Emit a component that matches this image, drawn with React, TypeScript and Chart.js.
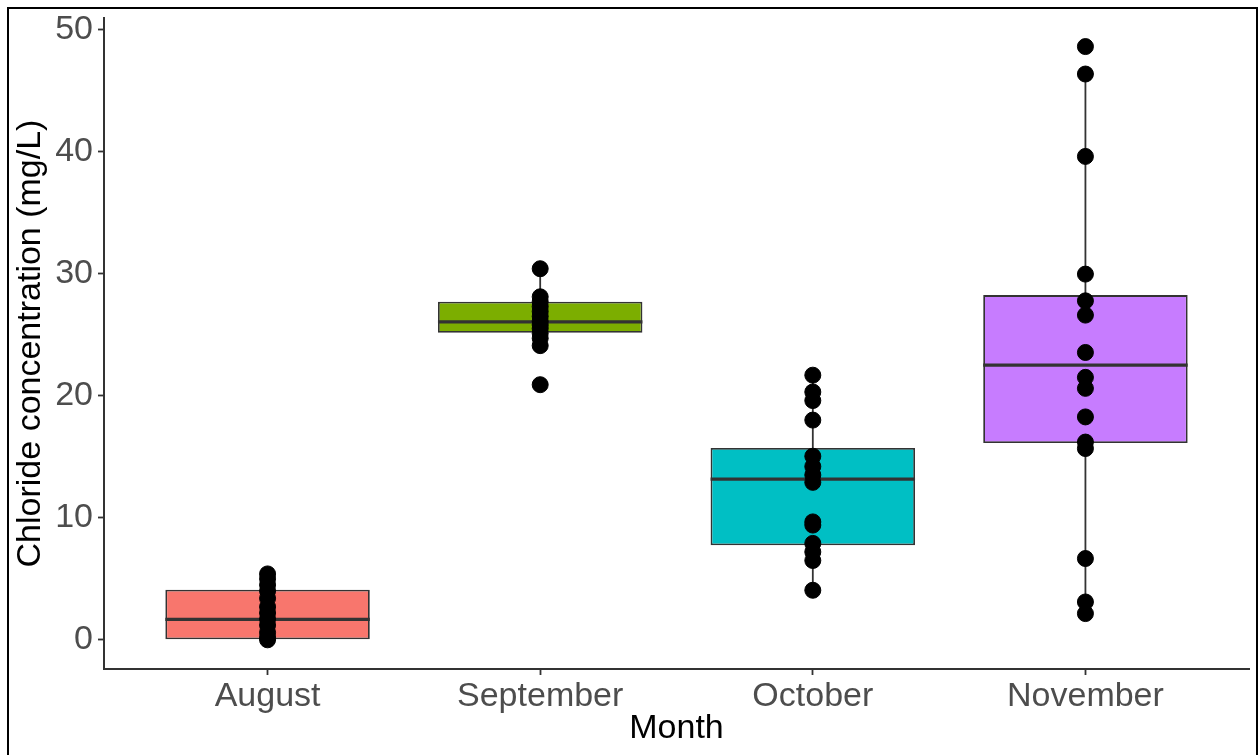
import React, { useEffect, useRef } from "react";
import { Chart, registerables } from "chart.js";

Chart.register(...registerables);

const months = ["August", "September", "October", "November"];
const boxColors = ["#F8766D", "#7CAE00", "#00BFC4", "#C77CFF"];

// box statistics
const q1 = [0.0, 25.15, 7.75, 16.13];
const medians = [1.68, 26.05, 13.16, 22.5];
const q3 = [4.1, 27.7, 15.72, 28.24];
const whiskerLow = [0.0, 24.1, 4.06, 2.15];
const whiskerHigh = [5.4, 30.4, 21.68, 46.35];

// individual observations
const augustPts = [5.4, 5.0, 4.5, 4.0, 3.4, 2.7, 2.2, 1.7, 1.2, 0.6, 0.2, 0.0];
const septemberPts = [30.4, 28.1, 27.7, 27.3, 26.9, 26.5, 26.1, 25.8, 25.5, 25.1, 24.7, 24.1, 20.9];
const octoberPts = [21.68, 20.3, 19.6, 18.0, 15.04, 14.2, 13.5, 12.9, 9.66, 9.4, 7.9, 7.2, 6.5, 4.06];
const novemberPts = [48.6, 46.35, 39.6, 29.96, 27.77, 26.6, 23.54, 21.5, 20.6, 18.26, 16.2, 15.67, 6.66, 3.1, 2.15];
const allPts = [augustPts, septemberPts, octoberPts, novemberPts];

const yTicks = [0, 10, 20, 30, 40, 50];
const xTicks = [1, 2, 3, 4];

const FONT = "'Liberation Sans', Arial, Helvetica, sans-serif";

export default function App() {
  const ref = useRef<HTMLCanvasElement | null>(null);

  useEffect(() => {
    const canvas = ref.current;
    if (!canvas) return;

    const boxPlugin = {
      id: "boxExtras",
      beforeDatasetsDraw(chart: any) {
        const { ctx, scales } = chart;
        const x = scales.x;
        const y = scales.y;
        ctx.save();
        ctx.strokeStyle = "#333333";
        ctx.lineWidth = 1.8;
        months.forEach((_, i) => {
          const px = x.getPixelForValue(i + 1);
          ctx.beginPath();
          ctx.moveTo(px, y.getPixelForValue(whiskerLow[i]));
          ctx.lineTo(px, y.getPixelForValue(whiskerHigh[i]));
          ctx.stroke();
        });
        ctx.restore();
      },
      afterDatasetDraw(chart: any, args: any) {
        if (args.index !== 1) return;
        const { ctx, scales } = chart;
        const y = scales.y;
        ctx.save();
        ctx.strokeStyle = "#333333";
        ctx.lineWidth = 3.2;
        args.meta.data.forEach((bar: any, i: number) => {
          const p = bar.getProps(["x", "width"], true);
          const py = y.getPixelForValue(medians[i]);
          ctx.beginPath();
          ctx.moveTo(p.x - p.width / 2, py);
          ctx.lineTo(p.x + p.width / 2, py);
          ctx.stroke();
        });
        ctx.restore();
      },
    };

    const pointData: { x: number; y: number }[] = [];
    allPts.forEach((arr, i) => arr.forEach((v) => pointData.push({ x: i + 1, y: v })));

    const chart = new Chart(canvas, {
      type: "bar",
      data: {
        datasets: [
          {
            type: "scatter",
            data: pointData,
            backgroundColor: "#000000",
            borderColor: "#000000",
            pointRadius: 8,
            pointHoverRadius: 8,
            order: 0,
          } as any,
          {
            type: "bar",
            data: months.map((_, i) => ({ x: i + 1, y: [q1[i], q3[i]] })),
            backgroundColor: boxColors,
            borderColor: "#333333",
            borderWidth: 1.8,
            borderSkipped: false,
            barPercentage: 0.75,
            categoryPercentage: 1,
            grouped: false,
            order: 2,
          } as any,
        ],
      },
      options: {
        animation: false,
        responsive: false,
        devicePixelRatio: 1,
        layout: { padding: { left: 0, top: 18, right: 10, bottom: 0 } },
        plugins: {
          legend: { display: false },
          tooltip: { enabled: false },
        },
        scales: {
          x: {
            type: "linear",
            min: 0.4,
            max: 4.6,
            offset: false,
            grid: {
              drawOnChartArea: false,
              drawTicks: true,
              tickLength: 6,
              tickColor: "#333333",
              tickWidth: 1.8,
              offset: false,
            },
            border: { display: true, color: "#333333", width: 2 },
            afterBuildTicks: (scale: any) => {
              scale.ticks = xTicks.map((v) => ({ value: v }));
            },
            afterFit: (scale: any) => {
              scale.height = 86;
              scale.paddingLeft = 0;
              scale.paddingRight = 0;
            },
            ticks: {
              color: "#4D4D4D",
              font: { family: FONT, size: 34 },
              padding: 1,
              maxRotation: 0,
              autoSkip: false,
              callback: (v: any) => months[Number(v) - 1] ?? "",
            },
            title: {
              display: true,
              text: "Month",
              color: "#000000",
              font: { family: FONT, size: 34 },
              padding: { top: 0, bottom: 6 },
            },
          },
          y: {
            type: "linear",
            min: -2.39,
            max: 50.94,
            grid: {
              drawOnChartArea: false,
              drawTicks: true,
              tickLength: 6,
              tickColor: "#333333",
              tickWidth: 1.8,
            },
            border: { display: true, color: "#333333", width: 2 },
            afterBuildTicks: (scale: any) => {
              scale.ticks = yTicks.map((v) => ({ value: v }));
            },
            afterFit: (scale: any) => {
              scale.width = 104;
              scale.paddingTop = 0;
              scale.paddingBottom = 0;
            },
            ticks: {
              color: "#4D4D4D",
              font: { family: FONT, size: 34 },
              padding: 5,
              callback: (v: any) => String(v),
            },
            title: {
              display: true,
              text: "Chloride concentration (mg/L)",
              color: "#000000",
              font: { family: FONT, size: 34 },
              padding: { top: 10, bottom: 0 },
            },
          },
        },
      },
      plugins: [boxPlugin],
    });

    return () => chart.destroy();
  }, []);

  return (
    <>
      <div
        style={{
          position: "fixed",
          left: 7,
          top: 7,
          width: 1251,
          height: 748,
          boxSizing: "border-box",
          borderTop: "2px solid #000",
          borderLeft: "2px solid #000",
          borderRight: "2px solid #000",
          borderBottom: "none",
          background: "#fff",
        }}
      />
      <canvas
        ref={ref}
        width={1259}
        height={755}
        style={{ position: "fixed", left: 0, top: 0, width: 1259, height: 755 }}
      />
    </>
  );
}
